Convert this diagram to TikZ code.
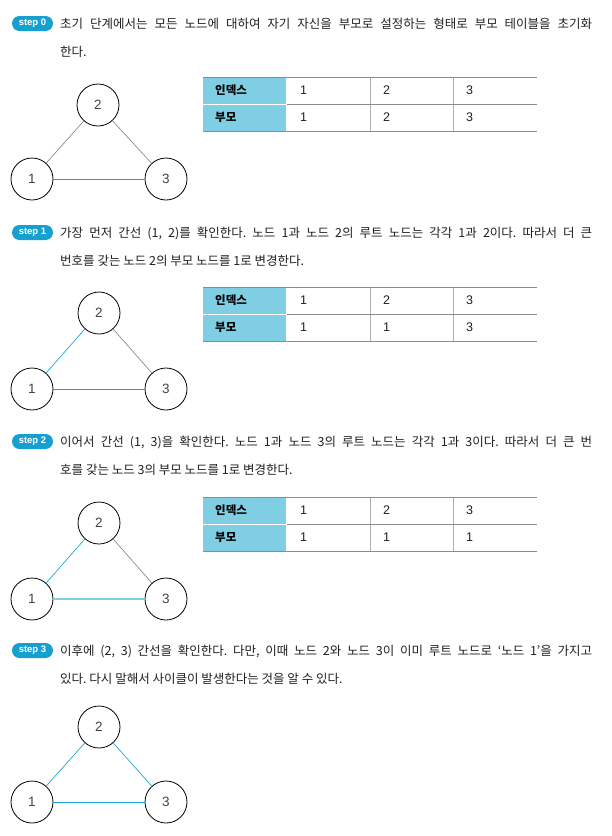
\documentclass[tikz,border=0pt]{standalone}
\usepackage{fontspec}
\setmainfont{Liberation Sans}
\newfontfamily\kr{Noto Sans CJK KR}
\frenchspacing
\definecolor{badge}{RGB}{22,160,208}
\definecolor{hdr}{RGB}{128,206,228}
\definecolor{edgeblue}{RGB}{30,170,215}
\definecolor{edgelight}{RGB}{125,208,230}
\definecolor{tline}{RGB}{140,140,140}
\definecolor{tvline}{RGB}{175,175,175}
\definecolor{egray}{RGB}{128,128,128}
\definecolor{txt}{RGB}{35,31,32}
\tikzset{
  vert/.style={circle, draw=black, line width=0.8pt, minimum size=42pt, inner sep=0pt,
    font=\fontsize{13.5}{13.5}\selectfont, text=txt!85},
  badgebox/.style={rounded corners=7.5pt, fill=badge, text=white, minimum width=41pt,
    minimum height=15pt, inner sep=0pt, font=\fontsize{9.5}{9.5}\selectfont\bfseries},
  bodyline/.style={anchor=base west, inner sep=0pt, text=txt, font=\kr\fontsize{12.5}{12.5}\selectfont},
  cell/.style={anchor=west, inner sep=0pt, text=txt, font=\fontsize{12.5}{12.5}\selectfont},
  hcell/.style={anchor=west, inner sep=0pt, text=black, font=\kr\bfseries\fontsize{11.5}{11.5}\selectfont},
  plainedge/.style={draw=egray, line width=0.6pt},
  hotedge/.style={draw=edgeblue, line width=0.7pt},
  lightedge/.style={draw=edgelight, line width=1.6pt},
}
\newcommand\steptable[5]{%
  \fill[hdr] (203,#2) rectangle (286,#2+26.5);
  \fill[hdr] (203,#2+27.5) rectangle (286,#2+54);
  \draw[tvline, line width=0.7pt] (370,#2) -- (370,#2+54) (453,#2) -- (453,#2+54);
  \draw[tline, line width=0.8pt] (203,#2) -- (537,#2) (287,#2+27) -- (537,#2+27) (203,#2+54) -- (537,#2+54);
  \node[hcell] (#1h1) at (215,#2+13.5) {인덱스};
  \node[hcell] (#1h2) at (215,#2+40.5) {부모};
  \node[cell] (#1i1) at (300,#2+13.5) {1};
  \node[cell] (#1i2) at (383,#2+13.5) {2};
  \node[cell] (#1i3) at (466,#2+13.5) {3};
  \node[cell] (#1p1) at (300,#2+40.5) {#3};
  \node[cell] (#1p2) at (383,#2+40.5) {#4};
  \node[cell] (#1p3) at (466,#2+40.5) {#5};
}
\begin{document}
\begin{tikzpicture}[x=1pt,y=-1pt]
\useasboundingbox[fill=white] (0,0) rectangle (612,836);

% ---------- step 0
\node[badgebox] (b0) at (32.5,23.5) {step 0};
\node[bodyline] (s0l1) at (60,28) {\makebox[532pt][s]{초기 단계에서는 모든 노드에 대하여 자기 자신을 부모로 설정하는 형태로 부모 테이블을 초기화}};
\node[bodyline] (s0l2) at (60,56) {한다.};
\node[vert] (a2) at (98,105) {2};
\node[vert] (a1) at (32,179) {1};
\node[vert] (a3) at (166,179) {3};
\draw[plainedge] (a1) -- (a2);
\draw[plainedge] (a2) -- (a3);
\draw[plainedge] (a1) -- (a3);
\steptable{t0}{77}{1}{2}{3}

% ---------- step 1
\node[badgebox] (b1) at (32.5,232.5) {step 1};
\node[bodyline] (s1l1) at (60,237) {\makebox[532pt][s]{가장 먼저 간선 (1, 2)를 확인한다. 노드 1과 노드 2의 루트 노드는 각각 1과 2이다. 따라서 더 큰}};
\node[bodyline] (s1l2) at (60,265) {번호를 갖는 노드 2의 부모 노드를 1로 변경한다.};
\node[vert] (b2) at (99,313) {2};
\node[vert] (bb1) at (32,389) {1};
\node[vert] (b3) at (166,389) {3};
\draw[hotedge] (bb1) -- (b2);
\draw[plainedge] (b2) -- (b3);
\draw[plainedge] (bb1) -- (b3);
\steptable{t1}{287}{1}{1}{3}

% ---------- step 2
\node[badgebox] (b2b) at (32.5,441.5) {step 2};
\node[bodyline] (s2l1) at (60,446) {\makebox[532pt][s]{이어서 간선 (1, 3)을 확인한다. 노드 1과 노드 3의 루트 노드는 각각 1과 3이다. 따라서 더 큰 번}};
\node[bodyline] (s2l2) at (60,474) {호를 갖는 노드 3의 부모 노드를 1로 변경한다.};
\node[vert] (c2) at (99,523) {2};
\node[vert] (c1) at (32,599) {1};
\node[vert] (c3) at (166,599) {3};
\draw[hotedge] (c1) -- (c2);
\draw[plainedge] (c2) -- (c3);
\draw[lightedge] (c1) -- (c3);
\steptable{t2}{497}{1}{1}{1}

% ---------- step 3
\node[badgebox] (b3b) at (32.5,650.5) {step 3};
\node[bodyline] (s3l1) at (60,655) {\makebox[532pt][s]{이후에 (2, 3) 간선을 확인한다. 다만, 이때 노드 2와 노드 3이 이미 루트 노드로 ‘노드 1’을 가지고}};
\node[bodyline] (s3l2) at (60,683) {있다. 다시 말해서 사이클이 발생한다는 것을 알 수 있다.};
\node[vert] (d2) at (99,727) {2};
\node[vert] (d1) at (32,802) {1};
\node[vert] (d3) at (166,802) {3};
\draw[hotedge] (d1) -- (d2);
\draw[hotedge] (d2) -- (d3);
\draw[hotedge] (d1) -- (d3);
\end{tikzpicture}
\end{document}
